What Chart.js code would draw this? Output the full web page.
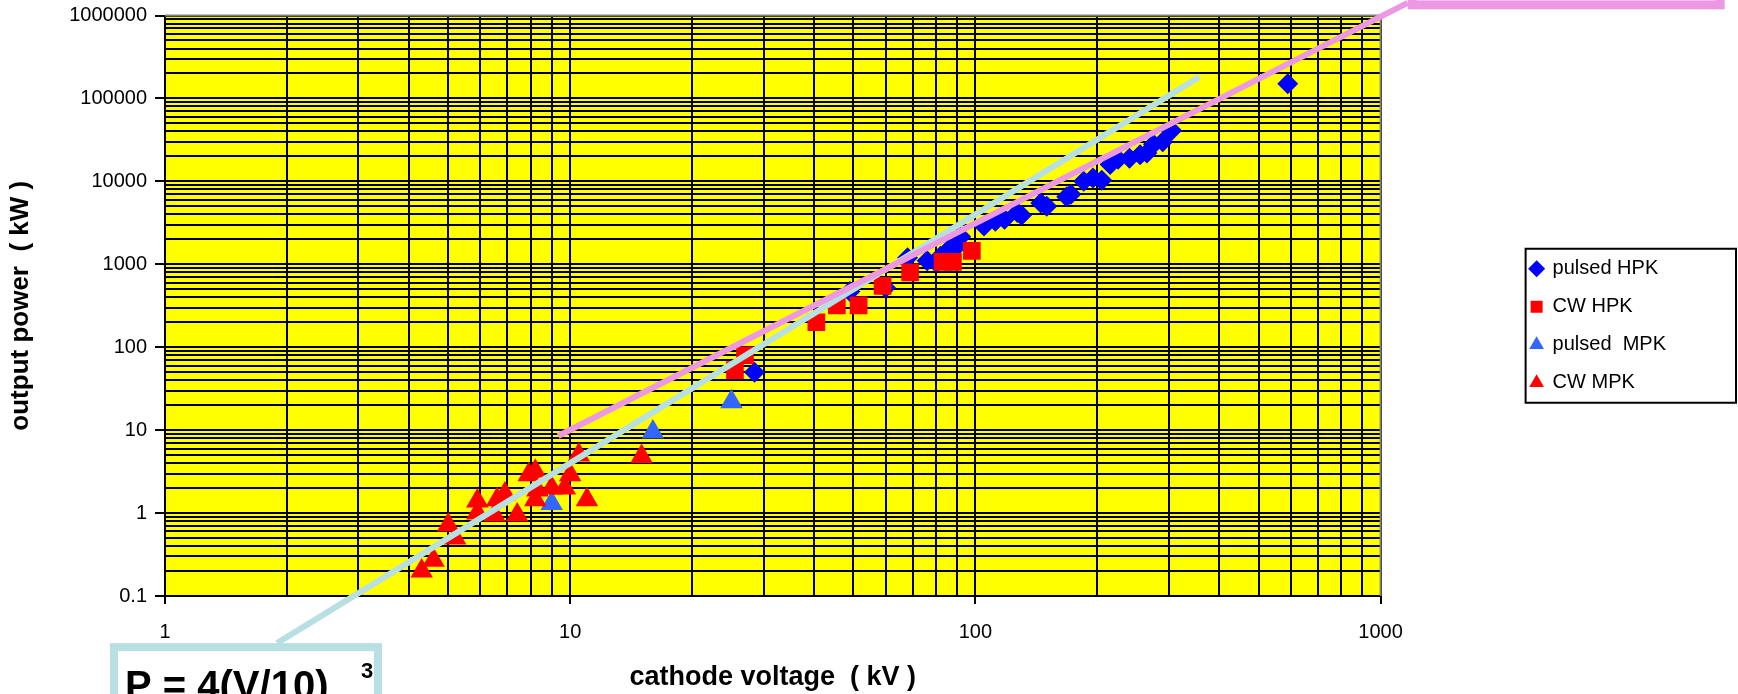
<!DOCTYPE html>
<html>
<head>
<meta charset="utf-8">
<script src="https://cdn.jsdelivr.net/npm/chart.js@4.4.0/dist/chart.umd.min.js"></script>
<style>
  html, body { margin: 0; padding: 0; background: #fff; }
  #wrap { width: 1738px; height: 694px; position: relative; }
</style>
</head>
<body>
<div id="wrap"><canvas id="grafico"></canvas></div>
<script>
// axis tick labels (log scales)
const xTickLabels = ['1', '10', '100', '1000'];
const yTickLabels = ['0.1', '1', '10', '100', '1000', '10000', '100000', '1000000'];
const minorSteps = [2, 3, 4, 5, 6, 7, 8, 9];

const seriesNames = ['pulsed HPK', 'CW HPK', 'pulsed  MPK', 'CW MPK'];

// cathode voltage (kV) / output power (kW)
const pulsedHpkV = [28.5, 49, 60, 68, 76, 80, 82, 87, 90, 92, 105, 112, 118, 127, 130, 145, 150, 168, 172, 185, 195, 205, 215, 225, 240, 255, 265, 275, 290, 305, 590];
const pulsedHpkP = [50, 470, 520, 1200, 1100, 1050, 1250, 1600, 1650, 2150, 2900, 3300, 3500, 4200, 3900, 5500, 5000, 6500, 7000, 10000, 11000, 10300, 16000, 18500, 19000, 21000, 22000, 28000, 30000, 41000, 150000];

const cwHpkV = [25.5, 27, 40.5, 45.5, 51.5, 59, 69, 83, 88, 98];
const cwHpkP = [53, 80, 200, 320, 320, 550, 800, 1070, 1070, 1450];

const pulsedMpkV = [9.0, 16, 25];
const pulsedMpkP = [1.3, 9.5, 22];

const cwMpkV = [4.3, 4.6, 5.0, 5.2, 5.9, 5.9, 6.5, 6.6, 6.9, 7.4, 7.9, 8.2, 8.2, 8.3, 9.0, 9.7, 10, 10.5, 11, 15];
const cwMpkP = [0.2, 0.27, 0.72, 0.5, 1.4, 1.0, 0.95, 1.45, 1.7, 0.95, 2.9, 3.2, 1.45, 1.9, 2.0, 2.0, 2.9, 5.0, 1.45, 4.8];

// drawn guide lines (end points)
const fitLineV = [1.89, 357];      // P = 4(V/10)^3
const fitLineP = [0.027, 182000];
const pinkLineV = [9.34, 1166];
const pinkLineP = [8.5, 1420000];

const formulaText = 'P = 4(V/10)';
const formulaExp = '3';

const FONT = '"Liberation Sans", Arial, sans-serif';

function toPoints(vs, ps) {
  return vs.map((v, i) => ({ x: v, y: ps[i] }));
}

function isMajor(value, labels) {
  return labels.some(l => Math.abs(Math.log10(value) - Math.log10(parseFloat(l))) < 1e-6);
}

function labelFor(value, labels) {
  const hit = labels.find(l => Math.abs(Math.log10(value) - Math.log10(parseFloat(l))) < 1e-6);
  return hit || '';
}

function buildLogTicks(labels) {
  const ticks = [];
  labels.forEach((lab, i) => {
    const base = parseFloat(lab);
    ticks.push({ value: base });
    if (i < labels.length - 1) minorSteps.forEach(m => ticks.push({ value: base * m }));
  });
  return ticks;
}

const decorations = {
  id: 'decorations',
  beforeDraw(chart) {
    const { ctx, chartArea: a } = chart;
    ctx.save();
    ctx.fillStyle = '#FFFF00';
    ctx.fillRect(a.left, a.top, a.right - a.left, a.bottom - a.top);
    ctx.restore();
  },
  beforeDatasetsDraw(chart) {
    const { ctx, chartArea: a } = chart;
    ctx.save();
    ctx.strokeStyle = '#808080';
    ctx.lineWidth = 2;
    ctx.beginPath();
    ctx.moveTo(a.left, a.top);
    ctx.lineTo(a.right, a.top);
    ctx.lineTo(a.right, a.bottom);
    ctx.stroke();
    ctx.restore();
  },
  afterDraw(chart) {
    const { ctx, scales } = chart;
    ctx.save();

    // legend frame
    const hb = chart.legend.legendHitBoxes;
    if (hb && hb.length) {
      const last = hb[hb.length - 1];
      const left = hb[0].left - 5;
      const top = hb[0].top - 10;
      const bottom = last.top + last.height + 10;
      ctx.strokeStyle = '#000';
      ctx.lineWidth = 2;
      ctx.strokeRect(left, top, chart.width - 2 - left, bottom - top);
    }

    // formula box at the lower end of the cyan line
    const sx = scales.x.getPixelForValue(fitLineV[0]);
    const sy = scales.y.getPixelForValue(fitLineP[0]);
    ctx.strokeStyle = '#B8DFE2';
    ctx.lineWidth = 8;
    ctx.strokeRect(sx - 163, sy + 4, 264, 120);
    ctx.fillStyle = '#000';
    ctx.textBaseline = 'alphabetic';
    ctx.font = 'bold 40px ' + FONT;
    ctx.fillText(formulaText, sx - 152, sy + 56);
    ctx.font = 'bold 22px ' + FONT;
    ctx.fillText(formulaExp, sx + 84, sy + 35);

    // pink box at the upper end of the pink line (mostly off canvas)
    const ex = scales.x.getPixelForValue(pinkLineV[1]);
    const ey = scales.y.getPixelForValue(pinkLineP[1]);
    ctx.strokeStyle = '#ED98E2';
    ctx.lineWidth = 9;
    ctx.strokeRect(ex + 4.5, ey - 110, 308, 112);

    ctx.restore();
  }
};

const datasets = [
  {
    label: seriesNames[0], data: toPoints(pulsedHpkV, pulsedHpkP), order: 5,
    pointStyle: 'rectRot', pointRadius: 10.5, backgroundColor: '#0000FF', borderColor: '#0000FF', borderWidth: 0
  },
  {
    label: seriesNames[1], data: toPoints(cwHpkV, cwHpkP), order: 4,
    pointStyle: 'rect', pointRadius: 12.5, backgroundColor: '#FF0000', borderColor: '#FF0000', borderWidth: 0
  },
  {
    label: seriesNames[2], data: toPoints(pulsedMpkV, pulsedMpkP), order: 3,
    pointStyle: 'triangle', pointRadius: 13, backgroundColor: '#3366FF', borderColor: '#3366FF', borderWidth: 0
  },
  {
    label: seriesNames[3], data: toPoints(cwMpkV, cwMpkP), order: 2,
    pointStyle: 'triangle', pointRadius: 13, backgroundColor: '#FF0000', borderColor: '#FF0000', borderWidth: 0
  },
  {
    label: 'fit', data: toPoints(fitLineV, fitLineP), order: 1, showLine: true, clip: false,
    pointRadius: 0, borderColor: '#B8DFE2', borderWidth: 6, fill: false
  },
  {
    label: 'pink', data: toPoints(pinkLineV, pinkLineP), order: 0, showLine: true, clip: false,
    pointRadius: 0, borderColor: '#ED98E2', borderWidth: 6, fill: false
  }
];
datasets.forEach(d => { d.xAxisID = 'x'; d.yAxisID = 'y'; });

new Chart(document.getElementById('grafico'), {
  type: 'scatter',
  data: { datasets: datasets },
  plugins: [decorations],
  options: {
    responsive: true,
    maintainAspectRatio: false,
    animation: false,
    events: [],
    layout: { padding: { top: 0, left: 0, right: 62, bottom: 0 } },
    plugins: {
      tooltip: { enabled: false },
      legend: {
        position: 'right',
        fullSize: false,
        align: 'center',
        title: { display: true, text: ' ', font: { family: FONT, size: 10 }, padding: { top: 14, bottom: 14 } },
        labels: {
          usePointStyle: true,
          boxWidth: 12,
          boxHeight: 12,
          padding: 18,
          color: '#000',
          font: { family: FONT, size: 20 },
          filter: item => item.datasetIndex < 4,
          sort: (a, b) => a.datasetIndex - b.datasetIndex
        }
      }
    },
    scales: {
      x: {
        type: 'logarithmic',
        position: 'bottom',
        min: 1,
        max: 1000,
        afterBuildTicks: s => { s.ticks = buildLogTicks(xTickLabels); },
        afterFit: s => { s.height = 98; },
        grid: {
          color: '#000',
          lineWidth: 2,
          tickLength: 8,
          tickColor: c => (c.tick && isMajor(c.tick.value, xTickLabels)) ? '#000' : 'rgba(0,0,0,0)'
        },
        border: { color: '#000', width: 2 },
        ticks: {
          autoSkip: false,
          maxRotation: 0,
          padding: 16,
          color: '#000',
          font: { family: FONT, size: 20 },
          callback: v => labelFor(v, xTickLabels)
        },
        title: {
          display: true,
          text: 'cathode voltage  ( kV )',
          color: '#000',
          font: { family: FONT, size: 27, weight: 'bold' },
          padding: { top: 0, bottom: 0 }
        }
      },
      y: {
        type: 'logarithmic',
        position: 'left',
        min: 0.1,
        max: 1000000,
        afterBuildTicks: s => { s.ticks = buildLogTicks(yTickLabels); },
        afterFit: s => { s.width = 165; s.paddingTop = 15.5; },
        grid: {
          color: '#000',
          lineWidth: 2,
          tickLength: 10,
          tickColor: c => (c.tick && isMajor(c.tick.value, yTickLabels)) ? '#000' : 'rgba(0,0,0,0)'
        },
        border: { color: '#000', width: 2 },
        ticks: {
          autoSkip: false,
          padding: 8,
          color: '#000',
          font: { family: FONT, size: 20 },
          callback: v => labelFor(v, yTickLabels)
        },
        title: {
          display: true,
          text: 'output power  ( kW )',
          color: '#000',
          font: { family: FONT, size: 26, weight: 'bold' },
          padding: { top: 5, bottom: 0 }
        }
      },
      gap: {
        type: 'linear',
        position: 'right',
        display: true,
        grid: { display: false, drawTicks: false },
        ticks: { display: false },
        border: { display: false },
        afterFit: s => { s.width = 132; }
      }
    }
  }
});
</script>
</body>
</html>
